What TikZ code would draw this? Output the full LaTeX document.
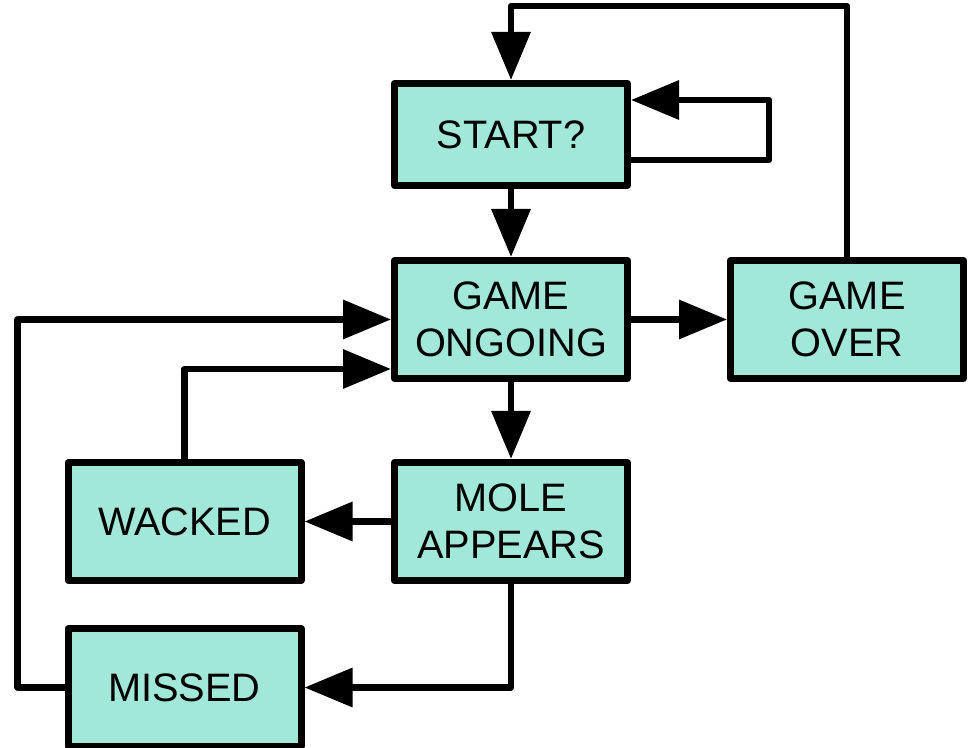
\documentclass[tikz,border=0pt]{standalone}
\usepackage{fontspec}
\setmainfont{Liberation Sans}
\usepackage{xcolor}
\usepackage{tikz}
\usetikzlibrary{arrows.meta,positioning,calc}

\definecolor{statefill}{HTML}{A2E8D8}

\begin{document}
\begin{tikzpicture}[
  state/.style={draw=black, fill=statefill, line width=0.14cm, line join=round,
    minimum width=4.66cm, minimum height=2.36cm, align=center,
    font=\fontsize{22.6}{26.7}\selectfont},
  link/.style={draw=black, line width=0.13cm, line join=round,
    -{Triangle[length=0.96cm, width=0.76cm]}}
]
  \useasboundingbox (0,0) rectangle (19.42,14.96);

  % states
  \node[state, minimum height=2.04cm] (start) at (10.22,12.27) {START?};
  \node[state] (ongoing) at (10.22,8.57) {GAME\\ONGOING};
  \node[state] (over) at (16.94,8.57) {GAME\\OVER};
  \node[state] (mole) at (10.22,4.53) {MOLE\\APPEARS};
  \node[state] (wacked) at (3.69,4.53) {WACKED};
  \node[state] (missed) at (3.69,1.21) {MISSED};

  % transitions
  \draw[link] (start.south) -- (ongoing.north);
  \draw[link] ([yshift=-0.51cm]start.east) -- ++(2.76,0) |- ([yshift=0.69cm]start.east);
  \draw[link] (over.north) -- ++(0,5.02) -| (start.north);
  \draw[link] (ongoing.east) -- (over.west);
  \draw[link] (ongoing.south) -- (mole.north);
  \draw[link] (mole.west) -- (wacked.east);
  \draw[link] (mole.south) |- (missed.east);
  \draw[link] (wacked.north) |- ([yshift=-0.99cm]ongoing.west);
  \draw[link] (missed.west) -- ++(-0.94,0) |- (ongoing.west);
\end{tikzpicture}
\end{document}
